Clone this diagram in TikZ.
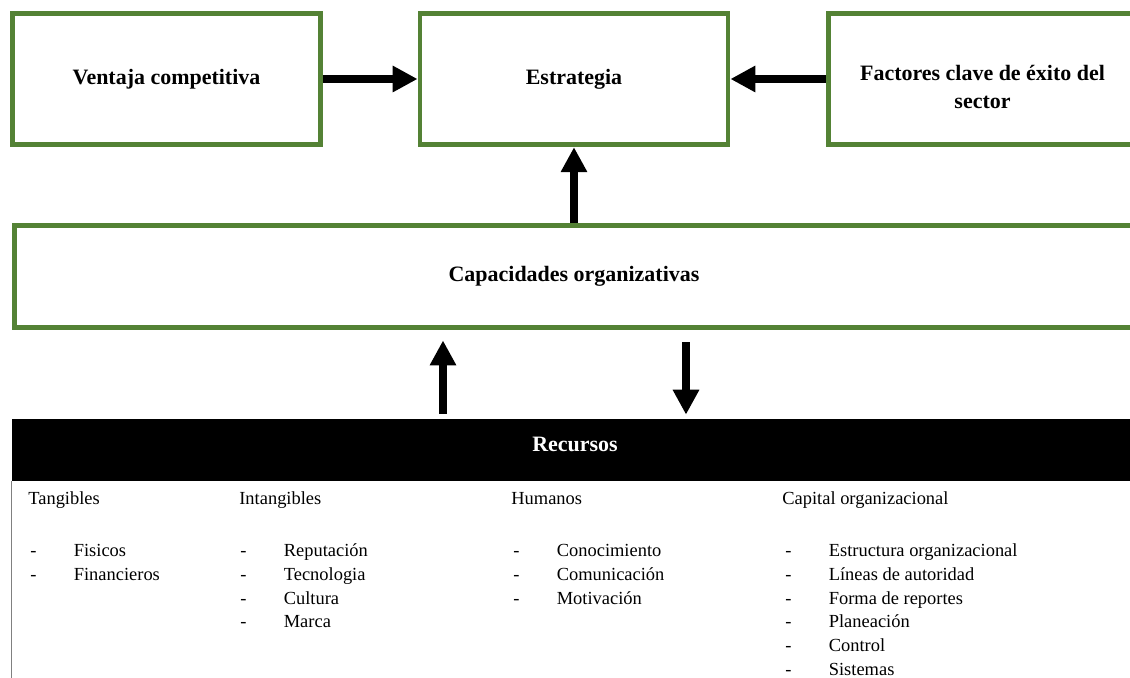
\documentclass[tikz,border=0pt]{standalone}
\usepackage{fontspec}
\setmainfont{Liberation Serif}
\usetikzlibrary{arrows.meta}
\definecolor{boxgreen}{HTML}{548235}

\begin{document}
\begin{tikzpicture}[x=0.02cm, y=-0.02cm,
    greenbox/.style={draw=boxgreen, line width=2.8pt, minimum width=6.16cm, minimum height=2.63cm, font=\fontsize{12.5}{16}\selectfont\bfseries},
    fat/.style={-{Triangle[length=0.5cm, width=0.5cm]}, line width=4.5pt},
    colhead/.style={anchor=base west, inner sep=0pt, font=\fontsize{10.5}{13.4}\selectfont},
    itemlist/.style={anchor=base west, inner sep=0pt, font=\fontsize{10.5}{13.44}\selectfont}]
    \useasboundingbox (0,0) rectangle (1130,678);
    \clip (0,0) rectangle (1130,678);

    \node[greenbox] (ventaja) at (166.5, 79) {Ventaja competitiva};
    \node[greenbox] (estrategia) at (574, 79) {Estrategia};
    \node[greenbox] (factores) at (982.5, 79) {\raisebox{-0.3cm}[0pt][0pt]{\begin{tabular}{@{}c@{}}Factores clave de éxito del\\sector\end{tabular}}};
    \node[greenbox, minimum width=22.38cm, minimum height=2.04cm] (capacidades) at (574, 276.5) {Capacidades organizativas};

    \node[fill=black, minimum width=22.56cm, minimum height=1.24cm] (recursos) at (576, 450) {};
    \node[text=white, font=\fontsize{12.5}{15}\selectfont\bfseries] (recursoslbl) at (575, 444) {Recursos};
    \draw[gray, line width=0.6pt] (recursos.south west) -- ++(0, 200);

    \draw[fat] (ventaja) -- (estrategia);
    \draw[fat] (factores) -- (estrategia);
    \draw[fat] (capacidades.north -| estrategia.south) -- (estrategia.south);
    \draw[fat, shorten <=0.1cm, shorten >=0.21cm] (recursos.north -| 443,0) -- (capacidades.south -| 443,0);
    \draw[fat, shorten <=0.25cm, shorten >=0.08cm] (capacidades.south -| 686,0) -- (recursos.north -| 686,0);

    % columnas de recursos
    \node[colhead] (tangibles) at (28, 505) {Tangibles};
    \node[colhead] (intangibles) at (239, 505) {Intangibles};
    \node[colhead] (humanos) at (511, 505) {Humanos};
    \node[colhead] (capital) at (782, 505) {Capital organizacional};

    \node[itemlist] (tangiblesitems) at (30, 557) {\begin{tabular}[t]{@{}p{0.87cm}@{}l@{}}
        - & Fisicos\\
        - & Financieros
    \end{tabular}};
    \node[itemlist] (intangiblesitems) at (240, 557) {\begin{tabular}[t]{@{}p{0.87cm}@{}l@{}}
        - & Reputación\\
        - & Tecnologia\\
        - & Cultura\\
        - & Marca
    \end{tabular}};
    \node[itemlist] (humanositems) at (513, 557) {\begin{tabular}[t]{@{}p{0.87cm}@{}l@{}}
        - & Conocimiento\\
        - & Comunicación\\
        - & Motivación
    \end{tabular}};
    \node[itemlist] (capitalitems) at (785, 557) {\begin{tabular}[t]{@{}p{0.87cm}@{}l@{}}
        - & Estructura organizacional\\
        - & Líneas de autoridad\\
        - & Forma de reportes\\
        - & Planeación\\
        - & Control\\
        - & Sistemas
    \end{tabular}};
\end{tikzpicture}
\end{document}
